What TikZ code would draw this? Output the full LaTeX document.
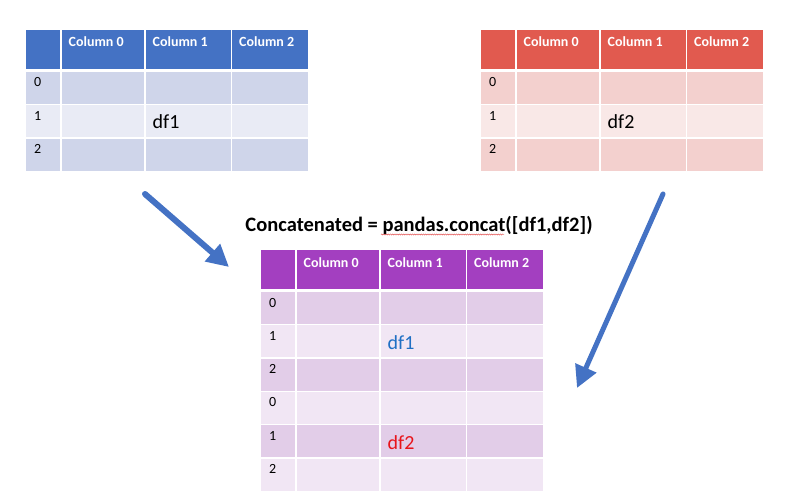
\documentclass[tikz,border=0pt]{standalone}
\usepackage{fontspec}
\setmainfont{Carlito}
\usetikzlibrary{arrows.meta,decorations.pathmorphing}
\definecolor{bhead}{HTML}{4472C4}
\definecolor{bdark}{HTML}{CFD5EA}
\definecolor{blight}{HTML}{E9EBF5}
\definecolor{rhead}{HTML}{E15A4F}
\definecolor{rdark}{HTML}{F3D0CE}
\definecolor{rlight}{HTML}{F9E8E7}
\definecolor{phead}{HTML}{A33FC0}
\definecolor{pdark}{HTML}{E2CDE8}
\definecolor{plight}{HTML}{F1E6F4}
\definecolor{arrowblue}{HTML}{4472C4}
\definecolor{dfblue}{HTML}{1F6FC4}
\definecolor{dfred}{HTML}{E8141A}
\definecolor{spellred}{HTML}{E04040}
\tikzset{
  cellbox/.style={rectangle, draw=none, inner sep=0pt, outer sep=0pt, anchor=north west},
  headtxt/.style={anchor=base west, inner sep=0pt, text=white, font=\fontsize{14}{16}\selectfont\bfseries},
  idxtxt/.style={anchor=base west, inner sep=0pt, text=black, font=\fontsize{14}{16}\selectfont},
  dftxt/.style={anchor=base west, inner sep=0pt, font=\fontsize{20}{22}\selectfont},
  titletxt/.style={anchor=base, inner sep=0pt, font=\fontsize{20.5}{23}\selectfont\bfseries},
  bigarrow/.style={draw=arrowblue, line cap=round, -{Triangle[length=22pt,width=22pt]}}
}
% #1 prefix, #2 x, #3 y, #4 head colour, #5 dark row, #6 light row, #7 number of rows
\newcommand\mkdftable[7]{%
  \begin{scope}[shift={(#2,#3)}]
    \foreach \cx/\cw/\cn in {0/34/i, 35.5/82.5/c0, 119.5/85/c1, 206/75.5/c2} {
      \node[cellbox, fill=#4, minimum width=\cw, minimum height=39] (#1-h\cn) at (\cx,0) {};
    }
    \node[headtxt] (#1-t0) at (42.5,17) {Column 0};
    \node[headtxt] (#1-t1) at (126.5,17) {Column 1};
    \node[headtxt] (#1-t2) at (213,17) {Column 2};
    \foreach \r in {1,...,#7} {
      \pgfmathtruncatemacro\rr{\r-1}
      \pgfmathtruncatemacro\ri{mod(\r-1,3)}
      \ifodd\rr\def\rc{#6}\else\def\rc{#5}\fi
      \foreach \cx/\cw/\cn in {0/34/i, 35.5/82.5/c0, 119.5/85/c1, 206/75.5/c2} {
        \node[cellbox, fill=\rc, minimum width=\cw, minimum height=32] (#1-r\rr-\cn) at (\cx,{42+\rr*33.3}) {};
      }
      \node[idxtxt] (#1-n\rr) at (8,{42+\rr*33.3+15}) {\ri};
    }
  \end{scope}%
}
\begin{document}
\begin{tikzpicture}[x=1pt,y=-1pt]
  \fill[white] (0,0) rectangle (786,500);
  \useasboundingbox (0,0) rectangle (786,500);
  \mkdftable{b}{26}{30}{bhead}{bdark}{blight}{3}
  \mkdftable{r}{481}{30}{rhead}{rdark}{rlight}{3}
  \mkdftable{p}{261}{250}{phead}{pdark}{plight}{6}
  \node[dftxt, text=black] (bdf) at ([shift={(7,23)}]b-r1-c1.north west) {df1};
  \node[dftxt, text=black] (rdf) at ([shift={(7,23)}]r-r1-c1.north west) {df2};
  \node[dftxt, text=dfblue] (pdf1) at ([shift={(7,24)}]p-r1-c1.north west) {df1};
  \node[dftxt, text=dfred] (pdf2) at ([shift={(7,24)}]p-r4-c1.north west) {df2};
  \node[titletxt] (title) at (419,231) {Concatenated = pandas.concat([df1,df2])};
  \draw[spellred, line width=0.4pt, decorate, decoration={snake, amplitude=0.6pt, segment length=2.2pt}] (381,234.5) -- (504,234.5);
  \coordinate (a1s) at (145,194);
  \coordinate (a1e) at (229,267);
  \coordinate (a2s) at (663,194);
  \coordinate (a2e) at (577,388);
  \draw[bigarrow, line width=6pt] (a1s) -- (a1e);
  \draw[bigarrow, line width=5pt] (a2s) -- (a2e);
\end{tikzpicture}
\end{document}
